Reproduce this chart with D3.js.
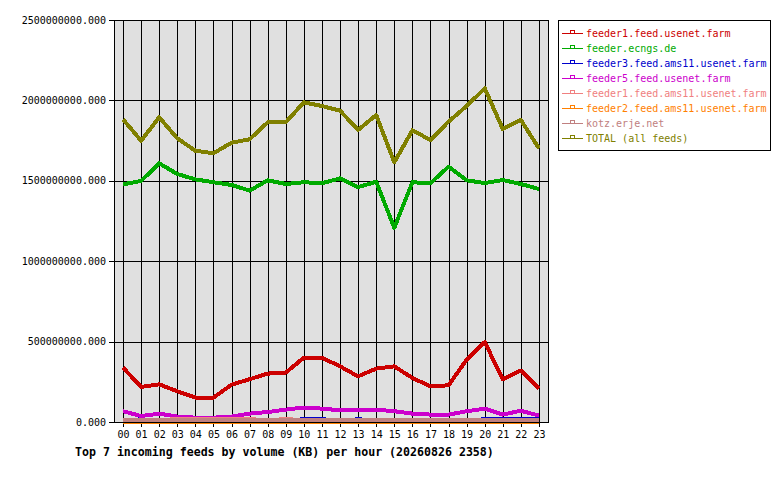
<!DOCTYPE html>
<html>
<head>
<meta charset="utf-8">
<script src="https://cdn.jsdelivr.net/npm/d3@7"></script>
<style>
  body { margin: 0; background: #fff; }
  svg { display: block; }
  text { font-family: "DejaVu Sans Mono", "Liberation Mono", monospace; }
</style>
</head>
<body>
<svg id="chart" width="780" height="480"></svg>
<script>
// hours on the x axis
const hours = d3.range(24).map(h => String(h).padStart(2, "0"));

// feed names and their colours, in drawing order
const feeds = [
  "feeder1.feed.usenet.farm",
  "feeder.ecngs.de",
  "feeder3.feed.ams11.usenet.farm",
  "feeder5.feed.usenet.farm",
  "feeder1.feed.ams11.usenet.farm",
  "feeder2.feed.ams11.usenet.farm",
  "kotz.erje.net",
  "TOTAL (all feeds)"
];
const colors = ["#cc0000", "#00aa00", "#0000cc", "#cc00cc", "#f08080", "#ff8000", "#c08080", "#808000"];

// volume in KB per hour
const feeder1Usenet = [338e6, 218e6, 234e6, 191e6, 152e6, 152e6, 232e6, 266e6, 301e6, 307e6, 400e6, 400e6,
                       346e6, 284e6, 332e6, 346e6, 274e6, 222e6, 228e6, 388e6, 497e6, 266e6, 320e6, 208e6];
const ecngs = [1478e6, 1499e6, 1609e6, 1542e6, 1509e6, 1491e6, 1474e6, 1439e6, 1503e6, 1480e6, 1491e6, 1485e6,
               1515e6, 1461e6, 1494e6, 1208e6, 1491e6, 1485e6, 1588e6, 1503e6, 1486e6, 1505e6, 1480e6, 1449e6];
const feeder3Ams = [5e6, 18e6, 5e6, 5e6, 5e6, 5e6, 5e6, 5e6, 5e6, 5e6, 18e6, 18e6,
                    5e6, 18e6, 5e6, 5e6, 5e6, 5e6, 5e6, 5e6, 18e6, 18e6, 18e6, 18e6];
const feeder5Usenet = [67e6, 37e6, 52e6, 34e6, 27e6, 27e6, 34e6, 52e6, 62e6, 77e6, 90e6, 83e6,
                       73e6, 73e6, 77e6, 67e6, 52e6, 46e6, 46e6, 67e6, 83e6, 46e6, 70e6, 40e6];
const feeder1Ams = [8e6, 8e6, 8e6, 20e6, 20e6, 20e6, 20e6, 20e6, 8e6, 20e6, 8e6, 8e6,
                    8e6, 8e6, 8e6, 8e6, 8e6, 8e6, 8e6, 8e6, 8e6, 8e6, 8e6, 8e6];
const feeder2Ams = [3e6, 3e6, 3e6, 3e6, 3e6, 3e6, 3e6, 3e6, 3e6, 3e6, 3e6, 3e6,
                    3e6, 3e6, 3e6, 3e6, 3e6, 3e6, 3e6, 3e6, 3e6, 3e6, 3e6, 3e6];
const kotz = [10e6, 10e6, 10e6, 10e6, 10e6, 10e6, 10e6, 10e6, 10e6, 10e6, 10e6, 10e6,
              10e6, 10e6, 10e6, 10e6, 10e6, 10e6, 10e6, 10e6, 10e6, 10e6, 10e6, 10e6];
const total = [1882e6, 1749e6, 1895e6, 1764e6, 1687e6, 1671e6, 1737e6, 1758e6, 1864e6, 1864e6, 1988e6, 1965e6,
               1936e6, 1816e6, 1909e6, 1615e6, 1814e6, 1754e6, 1868e6, 1965e6, 2075e6, 1822e6, 1878e6, 1702e6];

const series = [feeder1Usenet, ecngs, feeder3Ams, feeder5Usenet, feeder1Ams, feeder2Ams, kotz, total];

const yTicks = [0, 500e6, 1000e6, 1500e6, 2000e6, 2500e6];
const title = "Top 7 incoming feeds by volume (KB) per hour (20260826 2358)";

const svg = d3.select("#chart");
const plotLeft = 114, plotRight = 548, plotTop = 20, plotBottom = 422;

const x = d3.scaleLinear().domain([-0.5, 23.5]).range([plotLeft, plotRight]);
const y = d3.scaleLinear().domain([0, 2500e6]).range([plotBottom, plotTop]);

// plot background
svg.append("rect")
  .attr("x", plotLeft).attr("y", plotTop)
  .attr("width", plotRight - plotLeft).attr("height", plotBottom - plotTop)
  .attr("fill", "#e0e0e0");

// vertical grid lines, running a little below the axis as ticks
svg.append("g")
  .selectAll("line")
  .data(hours)
  .join("line")
  .attr("x1", (d, i) => Math.round(x(i)) + 0.5)
  .attr("x2", (d, i) => Math.round(x(i)) + 0.5)
  .attr("y1", plotTop)
  .attr("y2", plotBottom + 5)
  .attr("stroke", "#000")
  .attr("shape-rendering", "crispEdges");

// horizontal grid lines
svg.append("g")
  .selectAll("line")
  .data(yTicks)
  .join("line")
  .attr("x1", plotLeft - 5)
  .attr("x2", plotRight)
  .attr("y1", d => Math.round(y(d)) + 0.5)
  .attr("y2", d => Math.round(y(d)) + 0.5)
  .attr("stroke", "#000")
  .attr("shape-rendering", "crispEdges");

// y tick labels
svg.append("g")
  .selectAll("text")
  .data(yTicks)
  .join("text")
  .attr("x", plotLeft - 8)
  .attr("y", d => y(d) + 3.5)
  .attr("text-anchor", "end")
  .attr("font-size", "10px")
  .text(d => d3.format(".3f")(d));

// x tick labels
svg.append("g")
  .selectAll("text")
  .data(hours)
  .join("text")
  .attr("x", (d, i) => x(i) + 0.5)
  .attr("y", plotBottom + 16)
  .attr("text-anchor", "middle")
  .attr("font-size", "10px")
  .text(d => d);

// data lines (aliased like the original gd drawing)
const line = d3.line()
  .x((d, i) => x(i))
  .y(d => y(d));

svg.append("g")
  .selectAll("path")
  .data(series)
  .join("path")
  .attr("d", d => line(d))
  .attr("fill", "none")
  .attr("stroke", (d, i) => colors[i])
  .attr("stroke-width", 4)
  .attr("stroke-linejoin", "round")
  .attr("shape-rendering", "crispEdges");

// plot frame
svg.append("rect")
  .attr("x", plotLeft + 0.5).attr("y", plotTop + 0.5)
  .attr("width", plotRight - plotLeft).attr("height", plotBottom - plotTop)
  .attr("fill", "none")
  .attr("stroke", "#000")
  .attr("stroke-width", 1.5)
  .attr("shape-rendering", "crispEdges");

// title
svg.append("text")
  .attr("x", 75)
  .attr("y", 456)
  .attr("font-size", "11.6px")
  .attr("font-weight", "bold")
  .text(title);

// legend
const legend = svg.append("g");
legend.append("rect")
  .attr("x", 558.5).attr("y", 20.5)
  .attr("width", 212).attr("height", 130)
  .attr("fill", "#fff")
  .attr("stroke", "#000")
  .attr("shape-rendering", "crispEdges");

const item = legend.selectAll("g.item")
  .data(feeds)
  .join("g")
  .attr("class", "item")
  .attr("transform", (d, i) => `translate(0,${33 + i * 15})`);

item.append("line")
  .attr("x1", 562).attr("x2", 583)
  .attr("y1", 0.5).attr("y2", 0.5)
  .attr("stroke", (d, i) => colors[i])
  .attr("shape-rendering", "crispEdges");

item.append("rect")
  .attr("x", 570.5).attr("y", -2.5)
  .attr("width", 4).attr("height", 3)
  .attr("fill", "none")
  .attr("stroke", (d, i) => colors[i])
  .attr("shape-rendering", "crispEdges");

item.append("text")
  .attr("x", 586)
  .attr("y", 4)
  .attr("font-size", "10px")
  .attr("fill", (d, i) => colors[i])
  .text(d => d);
</script>
</body>
</html>
